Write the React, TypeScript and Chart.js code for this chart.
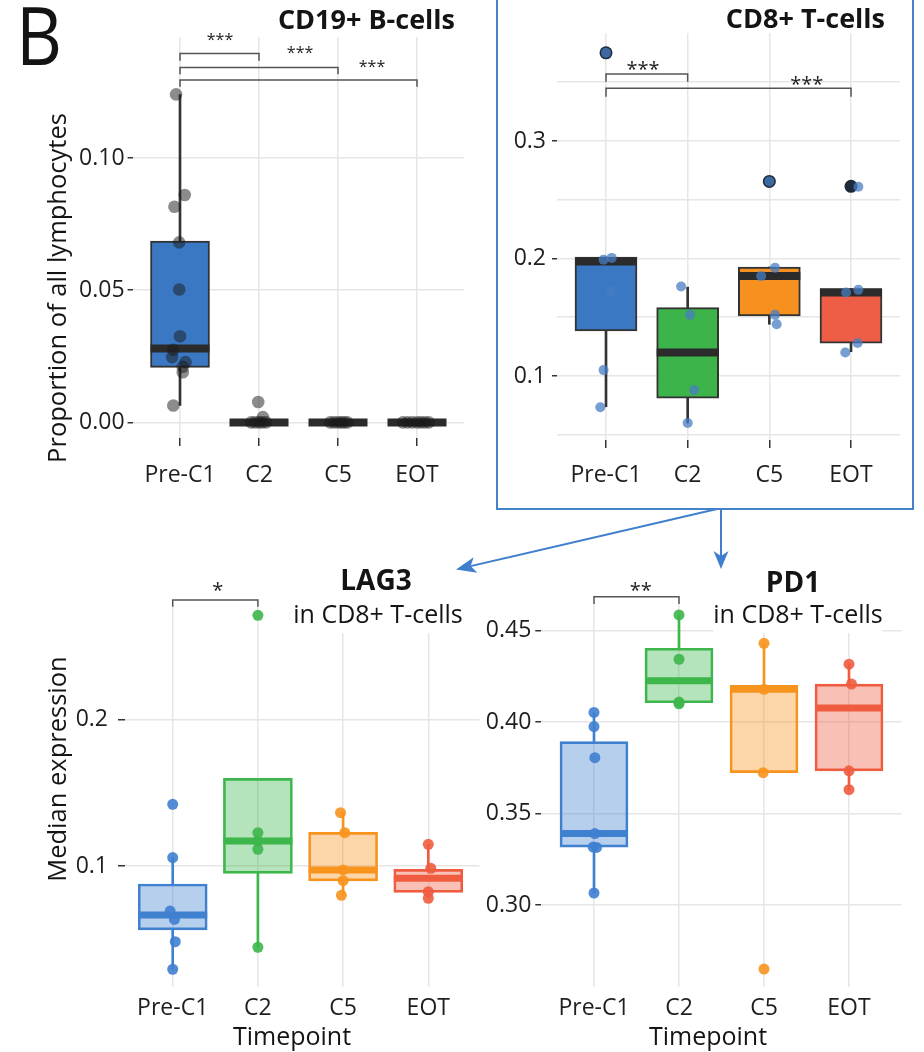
import React, { useEffect, useRef } from 'react';
import { Chart, registerables } from 'chart.js';

Chart.register(...registerables);

const FONT = "'Open Sans', 'Noto Sans', sans-serif";
Chart.defaults.font.family = FONT;

const CATEGORIES = ['Pre-C1', 'C2', 'C5', 'EOT'];

// ---- CD19+ B-cells (proportion of all lymphocytes)
const CD19_Q1 = [0.0208, 0, 0, 0];
const CD19_MED = [0.028, 0, 0, 0];
const CD19_Q3 = [0.0686, 0, 0, 0];
const CD19_LO = [0.0064, 0, 0, 0];
const CD19_HI = [0.124, 0, 0, 0];
// [category, jitter, value]
const CD19_POINTS = [
  [0, -0.05, 0.1241], [0, 0.06, 0.086], [0, -0.07, 0.0816], [0, -0.01, 0.0681], [0, -0.01, 0.0503],
  [0, 0.0, 0.0326], [0, -0.085, 0.0275], [0, -0.1, 0.0247], [0, 0.07, 0.0228], [0, 0.035, 0.021],
  [0, 0.035, 0.019], [0, -0.085, 0.0064],
  [1, -0.01, 0.0077], [1, 0.05, 0.002], [1, -0.1, 0], [1, -0.05, 0], [1, 0, 0], [1, 0.04, 0], [1, 0.09, 0],
  [2, -0.1, 0], [2, -0.05, 0], [2, 0, 0], [2, 0.04, 0], [2, 0.08, 0], [2, 0.12, 0],
  [3, -0.18, 0], [3, -0.12, 0], [3, -0.06, 0], [3, 0, 0], [3, 0.05, 0], [3, 0.1, 0], [3, 0.15, 0],
];
// [from, to, line value, tick end value, label, label x, label y]
const CD19_BRACKETS = [
  [0, 1, 0.1396, 0.1368, '***', 0.506, 0.1463],
  [0, 2, 0.1343, 0.1317, '***', 1.52, 0.1415],
  [0, 3, 0.1295, 0.127, '***', 2.43, 0.1362],
];

// ---- CD8+ T-cells
const CD8_Q1 = [0.1384, 0.081, 0.151, 0.1279];
const CD8_MED = [0.1974, 0.1199, 0.185, 0.171];
const CD8_Q3 = [0.2012, 0.1582, 0.1927, 0.1744];
const CD8_LO = [0.0738, 0.06, 0.144, 0.1207];
const CD8_HI = [0.2012, 0.1756, 0.1927, 0.1744];
const CD8_OUTLIERS = [[0, 0.375], [2, 0.2656], [3, 0.2614]];
const CD8_POINTS = [
  [0, 0.07, 0.2005], [0, -0.03, 0.199], [0, 0.06, 0.172], [0, -0.03, 0.105], [0, -0.07, 0.0733], [0, 0, 0.375],
  [1, -0.08, 0.1761], [1, 0.03, 0.152], [1, 0.08, 0.088], [1, 0, 0.06],
  [2, 0.07, 0.192], [2, -0.1, 0.185], [2, 0.07, 0.152], [2, 0.09, 0.144], [2, 0, 0.2656],
  [3, 0.09, 0.261], [3, 0.09, 0.1733], [3, -0.06, 0.171], [3, 0.08, 0.128], [3, -0.07, 0.12],
];
const CD8_BRACKETS = [
  [0, 1, 0.357, 0.3505, '***', 0.453, 0.3655],
  [0, 3, 0.3449, 0.3377, '***', 2.457, 0.3528],
];

// ---- LAG3 in CD8+ T-cells (median expression)
const LAG3_Q1 = [0.0564, 0.095, 0.0898, 0.082];
const LAG3_MED = [0.0666, 0.117, 0.0973, 0.0916];
const LAG3_Q3 = [0.0877, 0.1597, 0.1229, 0.0977];
const LAG3_LO = [0.0296, 0.0445, 0.08, 0.078];
const LAG3_HI = [0.1057, 0.1597, 0.1363, 0.1148];
const LAG3_POINTS = [
  [0, 0, 0.142], [0, 0, 0.1057], [0, -0.03, 0.0693], [0, 0.02, 0.0636], [0, 0.03, 0.0484], [0, 0, 0.0296],
  [1, 0, 0.2709], [1, 0, 0.1227], [1, 0, 0.117], [1, 0, 0.1114], [1, 0, 0.0446],
  [2, -0.03, 0.1363], [2, 0.02, 0.1227], [2, 0, 0.0973], [2, 0, 0.09], [2, -0.02, 0.08],
  [3, 0, 0.1148], [3, 0.03, 0.0984], [3, 0, 0.0825], [3, 0, 0.078],
];
const LAG3_BRACKETS = [[0, 1, 0.2813, 0.2768, '*', 0.53, 0.2915]];

// ---- PD1 in CD8+ T-cells (median expression)
const PD1_Q1 = [0.3317, 0.4106, 0.3724, 0.3734];
const PD1_MED = [0.3391, 0.4226, 0.418, 0.4077];
const PD1_Q3 = [0.3894, 0.4404, 0.4201, 0.4208];
const PD1_LO = [0.3066, 0.4106, 0.3724, 0.3631];
const PD1_HI = [0.4053, 0.4586, 0.4431, 0.4317];
const PD1_POINTS = [
  [0, 0, 0.4053], [0, 0, 0.3976], [0, 0.01, 0.3806], [0, 0.01, 0.3391], [0, -0.01, 0.3317], [0, 0.03, 0.3315], [0, 0, 0.3066],
  [1, 0, 0.4586], [1, 0, 0.4344], [1, 0, 0.411], [1, 0, 0.41],
  [2, 0, 0.4431], [2, 0, 0.418], [2, -0.01, 0.3724], [2, 0, 0.265],
  [3, 0, 0.4317], [3, 0.03, 0.4208], [3, 0, 0.3734], [3, 0, 0.3631],
];
const PD1_BRACKETS = [[0, 1, 0.4686, 0.4646, '**', 0.55, 0.475]];

// ---- styles
const GRID = '#e6e6e6';
const TICK_DARK = '#333333';
const DARK_FILLS = ['#3b78c3', '#3cb44a', '#f6901e', '#ee5e46'];
const BASE = ['#3f80cf', '#3db64b', '#f7941e', '#ef5c3f'];
const LIGHT = ['rgba(63,128,207,0.38)', 'rgba(61,182,75,0.38)', 'rgba(247,148,30,0.38)', 'rgba(239,92,63,0.38)'];
const PT_BOTTOM = ['rgba(63,128,207,0.9)', 'rgba(61,182,75,0.9)', 'rgba(247,148,30,0.9)', 'rgba(239,92,63,0.9)'];

type Spec = {
  q1: number[]; med: number[]; q3: number[]; lo: number[]; hi: number[];
  pts: number[][]; outs?: number[][]; brackets: any[][];
  yMin: number; yMax: number; yStep: number; major: number; dec: number;
  xMin: number; xMax: number;
  yW: number; padTop: number; padRight: number; xH: number;
  yTickLen: number; yTickPad: number; xTickLen: number; xTickPad: number;
  boxW: number; medW: number;
  fill: string[]; border: string[]; med_c: string[]; whisk: string[];
  ptColor: string[]; ptR: number; outColor?: string; outR?: number;
  starSize: number;
};

function bracketPlugin(items: any[][], starSize: number) {
  return {
    id: 'sigBrackets',
    afterDatasetsDraw(chart: any) {
      const { ctx } = chart;
      const xs = chart.scales.x;
      const ys = chart.scales.y;
      ctx.save();
      ctx.strokeStyle = '#555';
      ctx.lineWidth = 1.5;
      ctx.fillStyle = '#222';
      ctx.font = `${starSize}px ${FONT}`;
      ctx.textAlign = 'center';
      ctx.textBaseline = 'alphabetic';
      for (const [from, to, yl, ye, label, lx, ly] of items) {
        const x1 = xs.getPixelForValue(from);
        const x2 = xs.getPixelForValue(to);
        const py = ys.getPixelForValue(yl);
        const pe = ys.getPixelForValue(ye);
        ctx.beginPath();
        ctx.moveTo(x1, pe);
        ctx.lineTo(x1, py);
        ctx.lineTo(x2, py);
        ctx.lineTo(x2, pe);
        ctx.stroke();
        ctx.fillText(label, xs.getPixelForValue(lx), ys.getPixelForValue(ly) + 0.58 * starSize);
      }
      ctx.restore();
    },
  };
}

function buildChart(canvas: HTMLCanvasElement, s: Spec) {
  const datasets: any[] = [
    {
      type: 'scatter',
      data: s.pts.map((p) => ({ x: p[0] + p[1], y: p[2] })),
      pointBackgroundColor: s.pts.map((p) => s.ptColor[p[0]]),
      pointBorderWidth: 0,
      pointRadius: s.ptR,
      order: 1,
    },
  ];
  if (s.outs) {
    datasets.push({
      type: 'scatter',
      data: s.outs.map((o) => ({ x: o[0], y: o[1] })),
      pointBackgroundColor: s.outColor,
      pointBorderWidth: 0,
      pointRadius: s.outR,
      order: 2,
    });
  }
  datasets.push(
    {
      type: 'scatter',
      data: s.med.map((m, i) => ({ x: i, y: m })),
      pointStyle: 'line',
      pointRadius: s.boxW / 2,
      pointBorderColor: s.med_c,
      pointBorderWidth: s.medW,
      order: 3,
    },
    {
      type: 'bar',
      data: s.q1.map((q, i) => ({ x: i, y: [q, s.q3[i]] })),
      backgroundColor: s.fill,
      borderColor: s.border,
      borderWidth: 2,
      borderSkipped: false,
      barThickness: s.boxW,
      grouped: false,
      order: 4,
    },
    {
      type: 'bar',
      data: s.lo.map((l, i) => ({ x: i, y: [l, s.q1[i]] })),
      backgroundColor: s.whisk,
      borderWidth: 0,
      barThickness: 2,
      grouped: false,
      order: 5,
    },
    {
      type: 'bar',
      data: s.hi.map((h, i) => ({ x: i, y: [s.q3[i], h] })),
      backgroundColor: s.whisk,
      borderWidth: 0,
      barThickness: 2,
      grouped: false,
      order: 6,
    }
  );

  const isMajor = (v: number) => Math.abs(v / s.major - Math.round(v / s.major)) < 1e-6;

  return new Chart(canvas, {
    type: 'bar',
    data: { datasets },
    plugins: [bracketPlugin(s.brackets, s.starSize)],
    options: {
      responsive: false,
      animation: false,
      events: [],
      layout: { autoPadding: false, padding: { left: 0, top: s.padTop, right: s.padRight, bottom: 0 } },
      plugins: { legend: { display: false }, tooltip: { enabled: false } },
      scales: {
        x: {
          type: 'linear',
          min: s.xMin,
          max: s.xMax,
          offset: false,
          border: { display: false },
          grid: {
            offset: false,
            color: GRID,
            lineWidth: 1.5,
            drawTicks: s.xTickLen > 0,
            tickLength: s.xTickLen,
            tickColor: TICK_DARK,
            tickWidth: 1.5,
          },
          ticks: {
            stepSize: 1,
            includeBounds: false,
            autoSkip: false,
            maxRotation: 0,
            padding: s.xTickPad,
            color: '#1e1e1e',
            font: { size: 23 },
            callback: (v: any) => CATEGORIES[v] ?? '',
          },
          afterFit: (sc: any) => {
            sc.height = s.xH;
            sc.paddingLeft = 0;
            sc.paddingRight = 0;
            sc.paddingTop = 0;
            sc.paddingBottom = 0;
          },
        },
        y: {
          type: 'linear',
          min: s.yMin,
          max: s.yMax,
          beginAtZero: false,
          border: { display: false },
          grid: {
            color: GRID,
            lineWidth: 1.5,
            drawTicks: true,
            tickLength: s.yTickLen,
            tickWidth: 1.5,
            tickColor: (ctx: any) => (ctx.tick && isMajor(ctx.tick.value) ? TICK_DARK : 'rgba(0,0,0,0)'),
          },
          ticks: {
            stepSize: s.yStep,
            includeBounds: false,
            autoSkip: false,
            padding: s.yTickPad,
            color: '#1e1e1e',
            font: { size: 23 },
            callback: (v: any) => (isMajor(Number(v)) ? Number(v).toFixed(s.dec) : ''),
          },
          afterFit: (sc: any) => {
            sc.width = s.yW;
            sc.paddingLeft = 0;
            sc.paddingRight = 0;
            sc.paddingTop = 0;
            sc.paddingBottom = 0;
          },
        },
      },
    } as any,
  });
}

const SPEC_CD19: Spec = {
  q1: CD19_Q1, med: CD19_MED, q3: CD19_Q3, lo: CD19_LO, hi: CD19_HI,
  pts: CD19_POINTS, brackets: CD19_BRACKETS,
  yMin: -0.0059, yMax: 0.1458, yStep: 0.05, major: 0.05, dec: 2,
  xMin: -0.6, xMax: 3.6,
  yW: 132.6, padTop: 37, padRight: 5.6, xH: 62,
  yTickLen: 5, yTickPad: 3, xTickLen: 8, xTickPad: 16,
  boxW: 59, medW: 8,
  fill: ['#3b78c3', '#333', '#333', '#333'], border: ['#333', '#333', '#333', '#333'],
  med_c: ['#2b2b2b', '#2b2b2b', '#2b2b2b', '#2b2b2b'], whisk: ['#333', '#333', '#333', '#333'],
  ptColor: ['rgba(25,25,25,0.5)', 'rgba(25,25,25,0.5)', 'rgba(25,25,25,0.5)', 'rgba(25,25,25,0.5)'], ptR: 6.3,
  starSize: 16,
};

const SPEC_CD8: Spec = {
  q1: CD8_Q1, med: CD8_MED, q3: CD8_Q3, lo: CD8_LO, hi: CD8_HI,
  pts: CD8_POINTS, outs: CD8_OUTLIERS, brackets: CD8_BRACKETS,
  yMin: 0.0455, yMax: 0.3919, yStep: 0.05, major: 0.1, dec: 1,
  xMin: -0.6, xMax: 3.6,
  yW: 59, padTop: 33, padRight: 12, xH: 65,
  yTickLen: 5, yTickPad: 6, xTickLen: 8, xTickPad: 14,
  boxW: 62, medW: 8,
  fill: DARK_FILLS, border: ['#333', '#333', '#333', '#333'],
  med_c: ['#2b2b2b', '#2b2b2b', '#2b2b2b', '#2b2b2b'], whisk: ['#333', '#333', '#333', '#333'],
  ptColor: ['rgba(72,126,196,0.75)', 'rgba(72,126,196,0.75)', 'rgba(72,126,196,0.75)', 'rgba(72,126,196,0.75)'], ptR: 5,
  outColor: '#1d2a3a', outR: 6.5,
  starSize: 20,
};

const SPEC_LAG3: Spec = {
  q1: LAG3_Q1, med: LAG3_MED, q3: LAG3_Q3, lo: LAG3_LO, hi: LAG3_HI,
  pts: LAG3_POINTS, brackets: LAG3_BRACKETS,
  yMin: 0.0175, yMax: 0.2786, yStep: 0.1, major: 0.1, dec: 1,
  xMin: -0.56, xMax: 3.6,
  yW: 125, padTop: 44, padRight: 2.6, xH: 65,
  yTickLen: 7, yTickPad: 10, xTickLen: 0, xTickPad: 8,
  boxW: 69, medW: 7,
  fill: LIGHT, border: BASE, med_c: BASE, whisk: BASE,
  ptColor: PT_BOTTOM, ptR: 5.5,
  starSize: 20,
};

const SPEC_PD1: Spec = {
  q1: PD1_Q1, med: PD1_MED, q3: PD1_Q3, lo: PD1_LO, hi: PD1_HI,
  pts: PD1_POINTS, brackets: PD1_BRACKETS,
  yMin: 0.2552, yMax: 0.4657, yStep: 0.05, major: 0.05, dec: 2,
  xMin: -0.62, xMax: 3.62,
  yW: 59.3, padTop: 42, padRight: 22.3, xH: 65,
  yTickLen: 6, yTickPad: 4, xTickLen: 0, xTickPad: 8,
  boxW: 68, medW: 7,
  fill: LIGHT, border: BASE, med_c: BASE, whisk: BASE,
  ptColor: PT_BOTTOM, ptR: 5.5,
  starSize: 20,
};

function Panel({ spec, left, top, width, height }: { spec: Spec; left: number; top: number; width: number; height: number }) {
  const ref = useRef<HTMLCanvasElement>(null);
  useEffect(() => {
    const chart = buildChart(ref.current!, spec);
    return () => chart.destroy();
  }, [spec]);
  return (
    <canvas
      ref={ref}
      width={width}
      height={height}
      style={{ position: 'absolute', left, top, width, height }}
    />
  );
}

function Txt({ x, y, size, bold, align = 'left', bg, children, scaleX }: any) {
  const tx = align === 'center' ? '-50%' : align === 'right' ? '-100%' : '0';
  return (
    <div
      style={{
        position: 'absolute',
        left: x,
        top: y - 0.531 * size,
        fontFamily: FONT,
        fontSize: size,
        fontWeight: bold ? 700 : 400,
        lineHeight: `${size}px`,
        whiteSpace: 'nowrap',
        color: '#141414',
        background: bg,
        transformOrigin: 'left center',
        transform: `translateX(${tx})${scaleX ? ` scaleX(${scaleX})` : ''}`,
        paddingBottom: bg ? 7 : 0,
      }}
    >
      {children}
    </div>
  );
}

function VTxt({ x, y, size, children }: any) {
  return (
    <div
      style={{
        position: 'absolute',
        left: x,
        top: y,
        fontFamily: FONT,
        fontSize: size,
        lineHeight: `${size}px`,
        whiteSpace: 'nowrap',
        color: '#141414',
        transform: 'translate(-50%, -50%) rotate(-90deg)',
      }}
    >
      {children}
    </div>
  );
}

function arrowHead(x0: number, y0: number, x1: number, y1: number, len: number, half: number, notch: number) {
  const dx = x1 - x0;
  const dy = y1 - y0;
  const L = Math.hypot(dx, dy);
  const ux = dx / L;
  const uy = dy / L;
  const nx = -uy;
  const ny = ux;
  const bx = x1 - ux * len;
  const by = y1 - uy * len;
  const mx = x1 - ux * (len - notch);
  const my = y1 - uy * (len - notch);
  return {
    poly: `${x1},${y1} ${bx + nx * half},${by + ny * half} ${mx},${my} ${bx - nx * half},${by - ny * half}`,
    end: [mx, my],
  };
}

export default function App() {
  const a1 = arrowHead(717, 509, 456, 569.5, 20, 8, 5);
  const a2 = arrowHead(721, 509, 721, 569, 18, 7.5, 5);
  return (
    <div style={{ position: 'absolute', left: 0, top: 0, width: 924, height: 1052, background: '#fff', overflow: 'hidden' }}>
      <Panel spec={SPEC_CD19} left={0} top={0} width={470} height={500} />
      <Panel spec={SPEC_CD8} left={498} top={0} width={414} height={505} />
      <Panel spec={SPEC_LAG3} left={0} top={560} width={482} height={492} />
      <Panel spec={SPEC_PD1} left={482} top={560} width={442} height={492} />

      <div style={{ position: 'absolute', left: 496, top: -4, width: 414, height: 510, border: '2px solid #4383c9' }} />

      <Txt x={16} y={36} size={81} scaleX={0.88}>B</Txt>
      <Txt x={455} y={19} size={27} bold align="right">CD19+ B-cells</Txt>
      <Txt x={885} y={18.3} size={27} bold align="right">CD8+ T-cells</Txt>

      <Txt x={376} y={580} size={28} bold align="center">LAG3</Txt>
      <Txt x={378} y={614} size={25} align="center" bg="#fff">in CD8+ T-cells</Txt>
      <Txt x={793} y={582} size={28} bold align="center">PD1</Txt>
      <Txt x={798} y={614} size={25} align="center" bg="#fff">in CD8+ T-cells</Txt>

      <VTxt x={57} y={288} size={25.5}>Proportion of all lymphocytes</VTxt>
      <VTxt x={57} y={769} size={25.5}>Median expression</VTxt>
      <Txt x={292} y={1036} size={25} align="center">Timepoint</Txt>
      <Txt x={708} y={1036} size={25} align="center">Timepoint</Txt>

      <svg width={924} height={1052} style={{ position: 'absolute', left: 0, top: 0, pointerEvents: 'none' }}>
        <line x1={717} y1={509} x2={a1.end[0]} y2={a1.end[1]} stroke="#3f7fcc" strokeWidth={2} />
        <polygon points={a1.poly} fill="#3f7fcc" />
        <line x1={721} y1={509} x2={a2.end[0]} y2={a2.end[1]} stroke="#3f7fcc" strokeWidth={2} />
        <polygon points={a2.poly} fill="#3f7fcc" />
      </svg>
    </div>
  );
}
